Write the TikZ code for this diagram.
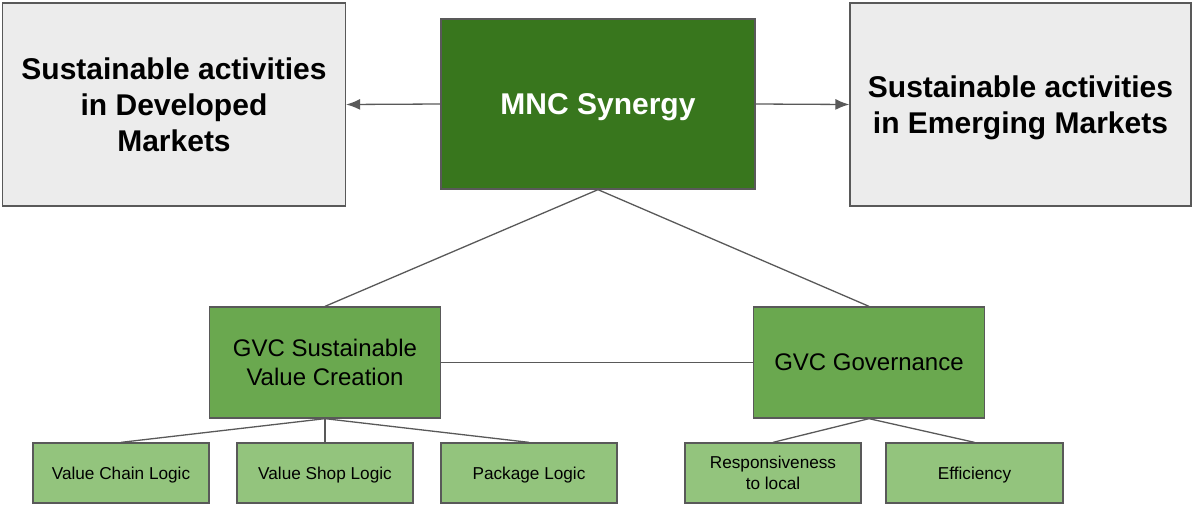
\documentclass[tikz,border=0pt]{standalone}
\usepackage{fontspec}
\setmainfont{Liberation Sans}
\usetikzlibrary{arrows.meta}
\definecolor{mncgreen}{HTML}{38761D}
\definecolor{gvcgreen}{HTML}{6AA84F}
\definecolor{leafgreen}{HTML}{93C47D}
\definecolor{boxgrey}{HTML}{ECECEC}
\definecolor{edgegrey}{HTML}{595959}
\begin{document}
\begin{tikzpicture}[x=1pt,y=-1pt,
    mbox/.style={draw=edgegrey, line width=1.3pt, inner sep=0pt, align=center, text depth=0pt},
    market/.style={mbox, fill=boxgrey, minimum width=343pt, minimum height=203pt, font=\fontsize{30}{36}\selectfont\bfseries},
    core/.style={mbox, fill=mncgreen, text=white, minimum width=314pt, minimum height=170pt, font=\fontsize{30}{36}\selectfont\bfseries},
    gvc/.style={mbox, fill=gvcgreen, minimum width=231pt, minimum height=111pt, font=\fontsize{24}{29}\selectfont},
    leaf/.style={mbox, fill=leafgreen, minimum width=176pt, minimum height=60pt, font=\fontsize{17.2}{20.5}\selectfont},
    conn/.style={draw=edgegrey, line width=1.3pt},
    arr/.style={conn, -{Latex[length=14pt,width=11pt]}}
]
\useasboundingbox (0,0) rectangle (1194,504);

% top row: markets and MNC
\node[market] (dev) at (174,104.5) {Sustainable activities\\in Developed\\Markets};
\node[core] (mnc) at (598,104) {MNC Synergy};
\node[market, minimum width=341pt] (emg) at (1020.5,104.5) {Sustainable activities\\in Emerging Markets};
\draw[arr] (mnc.west) -- (dev.east);
\draw[arr] (mnc.east) -- (emg.west);

% middle row: GVC
\node[gvc] (svc) at (325,362.5) {GVC Sustainable\\Value Creation};
\node[gvc] (gov) at (869,362.5) {GVC Governance};
\draw[conn] (mnc.south) -- (svc.north);
\draw[conn] (mnc.south) -- (gov.north);
\draw[conn] (svc.east) -- (gov.west);

% bottom row: logics
\node[leaf] (vcl) at (121,473) {Value Chain Logic};
\node[leaf] (vsl) at (325,473) {Value Shop Logic};
\node[leaf] (pkl) at (529,473) {Package Logic};
\node[leaf] (rsp) at (773,473) {Responsiveness\\to local};
\node[leaf, minimum width=177pt] (eff) at (974.5,473) {Efficiency};
\foreach \n in {vcl,vsl,pkl} {
  \draw[conn] (svc.south) -- (\n.north);
}
\foreach \n in {rsp,eff} {
  \draw[conn] (gov.south) -- (\n.north);
}
\end{tikzpicture}
\end{document}
